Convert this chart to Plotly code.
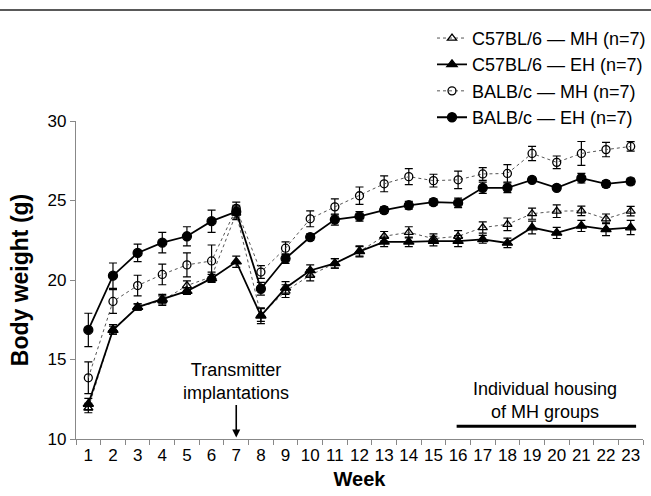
import plotly.graph_objects as go

weeks = [str(w) for w in range(1, 24)]

c57_mh = [11.95, 16.9, 18.3, 18.7, 19.65, 20.2, 24.2, 17.8, 19.3, 20.3, 21.05, 21.8, 22.75, 23.0, 22.6, 22.75, 23.3, 23.5, 24.17, 24.33, 24.35, 23.85, 24.33]
c57_mh_err = [0.3, 0.3, 0.2, 0.3, 0.3, 0.3, 0.4, 0.4, 0.4, 0.35, 0.3, 0.35, 0.3, 0.35, 0.3, 0.35, 0.35, 0.4, 0.35, 0.4, 0.3, 0.3, 0.3]

c57_eh = [12.2, 16.85, 18.3, 18.8, 19.3, 20.1, 21.15, 17.75, 19.5, 20.6, 21.05, 21.8, 22.4, 22.4, 22.45, 22.45, 22.56, 22.33, 23.3, 22.96, 23.4, 23.19, 23.3]
c57_eh_err = [0.35, 0.25, 0.2, 0.3, 0.2, 0.25, 0.35, 0.5, 0.4, 0.35, 0.3, 0.3, 0.3, 0.3, 0.3, 0.35, 0.25, 0.3, 0.4, 0.35, 0.35, 0.4, 0.45]

balb_mh = [13.85, 18.65, 19.65, 20.35, 20.95, 21.2, 24.5, 20.5, 22.0, 23.85, 24.6, 25.3, 26.05, 26.5, 26.25, 26.3, 26.67, 26.7, 27.96, 27.4, 27.96, 28.2, 28.4]
balb_mh_err = [1.0, 0.75, 0.65, 0.65, 0.75, 1.0, 0.4, 0.4, 0.4, 0.5, 0.5, 0.55, 0.5, 0.5, 0.4, 0.55, 0.4, 0.55, 0.45, 0.4, 0.75, 0.45, 0.3]

balb_eh = [16.86, 20.27, 21.7, 22.35, 22.75, 23.7, 24.3, 19.45, 21.35, 22.7, 23.8, 24.0, 24.4, 24.7, 24.9, 24.85, 25.8, 25.8, 26.3, 25.8, 26.4, 26.04, 26.2]
balb_eh_err = [1.05, 0.8, 0.55, 0.65, 0.6, 0.7, 0.4, 0.4, 0.3, 0.2, 0.35, 0.3, 0.2, 0.25, 0.2, 0.3, 0.35, 0.3, 0.15, 0.15, 0.3, 0.2, 0.2]

FONT = "Liberation Sans, Arial, sans-serif"

series = [
    ("C57BL/6 — MH (n=7)", c57_mh, c57_mh_err, "triangle-up-open", "dot", 1.0, "#555555", 8),
    ("C57BL/6 — EH (n=7)", c57_eh, c57_eh_err, "triangle-up", "solid", 1.8, "black", 9),
    ("BALB/c — MH (n=7)", balb_mh, balb_mh_err, "circle-open", "dot", 1.0, "#555555", 8),
    ("BALB/c — EH (n=7)", balb_eh, balb_eh_err, "circle", "solid", 1.8, "black", 9),
]

fig = go.Figure()
for i, (name, vals, err, sym, dash, lw, lc, ms) in enumerate(series):
    fig.add_trace(go.Scatter(
        x=weeks, y=vals, name=name, mode="lines+markers",
        legendgroup=f"g{i}",
        line=dict(color=lc, width=lw, dash=dash),
        marker=dict(symbol=sym, size=ms, color="black",
                    line=dict(color="black", width=1.3)),
        error_y=dict(type="data", array=err, visible=True, color="black",
                     thickness=1.2, width=4),
    ))

fig.update_layout(
    width=651, height=496,
    margin=dict(l=76, r=8, t=121, b=57, autoexpand=False),
    paper_bgcolor="white", plot_bgcolor="white",
    font=dict(family=FONT, size=17, color="black"),
    showlegend=True,
    legend=dict(xref="container", yref="container", x=1.0, y=0.96,
                xanchor="right", yanchor="top", font=dict(size=18),
                tracegroupgap=0, bgcolor="rgba(0,0,0,0)", itemwidth=30),
    xaxis=dict(type="category", categoryorder="array", categoryarray=weeks,
               range=[-0.5, 22.5], tickson="boundaries", ticks="outside",
               ticklen=5, tickcolor="#888888", showline=True, linecolor="#888888",
               linewidth=1.2, showgrid=False, zeroline=False, tickangle=0,
               tickfont=dict(size=17),
               title=dict(text="<b>Week</b>", font=dict(size=20), standoff=8)),
    yaxis=dict(range=[10, 30], tickvals=[10, 15, 20, 25, 30], ticks="outside",
               ticklen=5, tickcolor="#888888", showline=True, linecolor="#888888",
               linewidth=1.2, showgrid=False, zeroline=False,
               tickfont=dict(size=17),
               title=dict(text="<b>Body weight (g)</b>", font=dict(size=23), standoff=12)),
)

# top rule
fig.add_shape(type="line", xref="paper", yref="paper", x0=-76/567, x1=(651-76)/567,
              y0=1 + (121-10)/318, y1=1 + (121-10)/318,
              line=dict(color="#222222", width=1.5))

# transmitter implantation arrow
fig.add_annotation(x=6, y=10.1, xref="x", yref="y", ax=0, ay=-34,
                   showarrow=True, arrowhead=2, arrowsize=1.0, arrowwidth=1.6,
                   arrowcolor="black", text="")
fig.add_annotation(x=6, y=13.6, xref="x", yref="y", showarrow=False,
                   text="Transmitter<br>implantations", font=dict(size=18),
                   align="center", yanchor="middle")

# individual housing bar
fig.add_shape(type="line", xref="x", yref="y", x0=14.94, x1=22.22, y0=10.8, y1=10.8,
              line=dict(color="black", width=3))
fig.add_annotation(x=18.52, y=12.4, xref="x", yref="y", showarrow=False,
                   text="Individual housing<br>of MH groups", font=dict(size=18),
                   align="center", yanchor="middle")

fig.write_html("out.html")
